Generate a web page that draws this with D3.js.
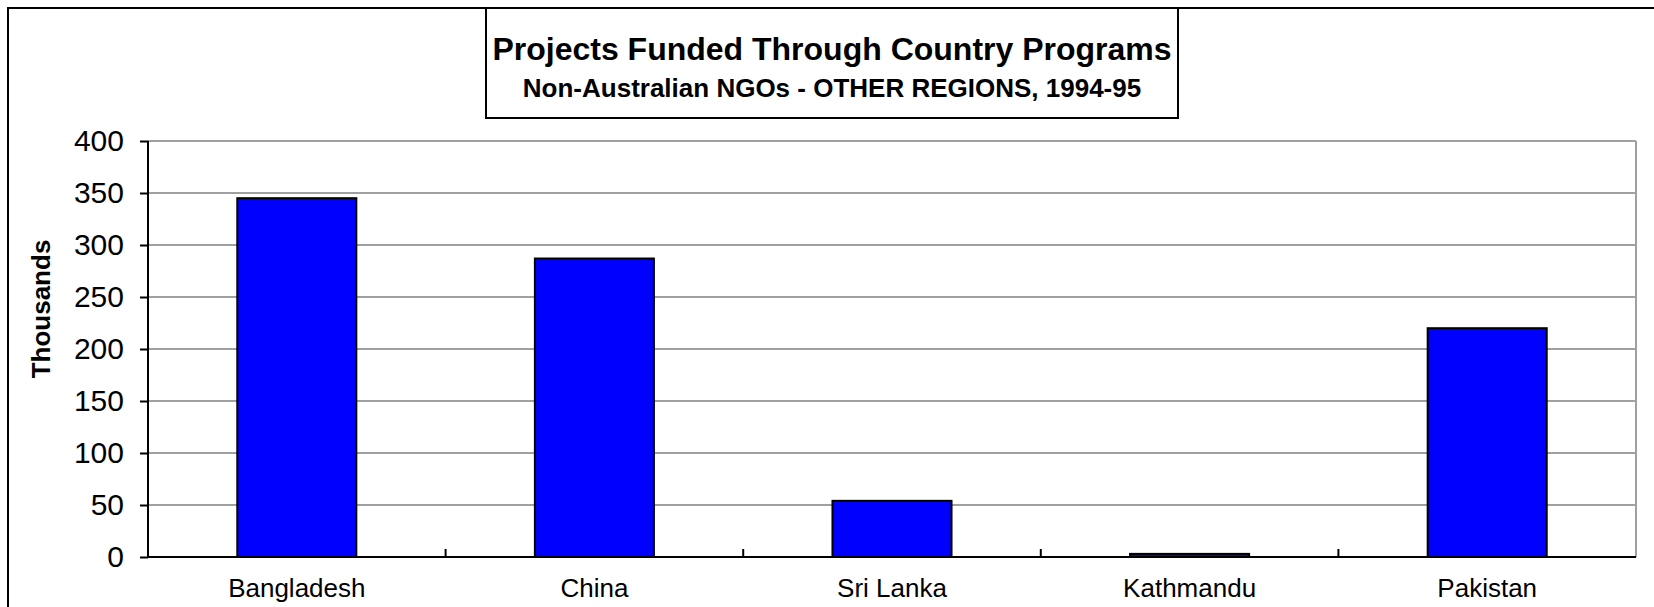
<!DOCTYPE html>
<html>
  <head>
    <meta charset="utf-8">
    <title>Projects Funded Through Country Programs</title>
    <script type="text/javascript" src="https://cdn.jsdelivr.net/npm/d3@7"></script>
    <style>
    body {
      margin: 0;
      background: #fff;
    }
    svg text {
      font-family: Arial, "Liberation Sans", sans-serif;
      fill: #000;
    }
    .title {
      font-size: 32px;
      font-weight: bold;
    }
    .subtitle {
      font-size: 26px;
      font-weight: bold;
    }
    .ytitle {
      font-size: 26px;
      font-weight: bold;
    }
    .grid line {
      stroke: #a0a0a0;
      stroke-width: 2;
    }
    </style>
  </head>
  <body>
    <div id="chart"></div>
    <script type="text/javascript">

      // data
      var countries = ['Bangladesh', 'China', 'Sri Lanka', 'Kathmandu', 'Pakistan'];
      var amounts = [345, 287, 54, 3, 220];   // thousands
      var yTicks = [0, 50, 100, 150, 200, 250, 300, 350, 400];

      var width = 1654,
          height = 607;
      var margin = {top: 141, right: 18, bottom: 50, left: 148};
      var plotW = width - margin.left - margin.right,
          plotH = 557 - margin.top;

      var svg = d3.select('#chart').append('svg')
        .attr('width', width)
        .attr('height', height);

      // outer frame (runs off the picture on the right and bottom)
      svg.append('rect')
        .attr('x', 8).attr('y', 8)
        .attr('width', 1670).attr('height', 640)
        .attr('fill', 'none')
        .attr('stroke', '#000')
        .attr('stroke-width', 2);

      // title box
      svg.append('rect')
        .attr('x', 486).attr('y', 8)
        .attr('width', 692).attr('height', 110)
        .attr('fill', '#fff')
        .attr('stroke', '#000')
        .attr('stroke-width', 2);
      svg.append('text')
        .attr('class', 'title')
        .attr('x', 832).attr('y', 60)
        .attr('text-anchor', 'middle')
        .text('Projects Funded Through Country Programs');
      svg.append('text')
        .attr('class', 'subtitle')
        .attr('x', 832).attr('y', 97)
        .attr('text-anchor', 'middle')
        .text('Non-Australian NGOs - OTHER REGIONS, 1994-95');

      var g = svg.append('g')
        .attr('transform', 'translate(' + margin.left + ',' + margin.top + ')');

      var x = d3.scaleBand()
        .domain(countries)
        .range([0, plotW])
        .paddingInner(0.6)
        .paddingOuter(0.3);
      var y = d3.scaleLinear()
        .domain([0, 400])
        .range([plotH, 0]);

      // gridlines
      g.append('g')
        .attr('class', 'grid')
        .selectAll('line')
        .data(yTicks.filter(function(d) { return d > 0; }))
        .enter()
        .append('line')
        .attr('x1', 0).attr('x2', plotW)
        .attr('y1', function(d) { return y(d); })
        .attr('y2', function(d) { return y(d); });

      // right border of plot area
      g.append('line')
        .attr('x1', plotW).attr('x2', plotW)
        .attr('y1', 0).attr('y2', plotH)
        .attr('stroke', '#a0a0a0')
        .attr('stroke-width', 2);

      // bars
      g.selectAll('.bar')
        .data(amounts)
        .enter()
        .append('rect')
        .attr('class', 'bar')
        .attr('x', function(d, i) { return x(countries[i]); })
        .attr('y', function(d) { return y(d); })
        .attr('width', x.bandwidth())
        .attr('height', function(d) { return plotH - y(d); })
        .attr('fill', '#0000ff')
        .attr('stroke', '#000')
        .attr('stroke-width', 2);

      // y axis
      var yAxis = g.append('g')
        .call(d3.axisLeft(y).tickValues(yTicks).tickSize(8).tickPadding(16));
      yAxis.select('.domain').attr('stroke-width', 2).attr('d', 'M0,0V' + plotH);
      yAxis.selectAll('.tick line').attr('stroke-width', 2);
      yAxis.selectAll('text')
        .style('font-size', '30px')
        .style('font-family', 'Arial, "Liberation Sans", sans-serif');

      // x axis
      var xAxis = g.append('g')
        .attr('transform', 'translate(0,' + plotH + ')')
        .call(d3.axisBottom(x).tickSize(0).tickPadding(22));
      xAxis.select('.domain').attr('stroke-width', 2).attr('d', 'M0,0H' + plotW);
      xAxis.selectAll('text')
        .style('font-size', '26px')
        .style('font-family', 'Arial, "Liberation Sans", sans-serif');

      // category separators, drawn inward from the axis
      var step = x.step();
      g.selectAll('.sep')
        .data(countries.slice(1))
        .enter()
        .append('line')
        .attr('class', 'sep')
        .attr('x1', function(d) { return x(d) - step * x.paddingInner() / 2; })
        .attr('x2', function(d) { return x(d) - step * x.paddingInner() / 2; })
        .attr('y1', plotH - 8).attr('y2', plotH)
        .attr('stroke', '#000')
        .attr('stroke-width', 2);

      // y axis title
      svg.append('text')
        .attr('class', 'ytitle')
        .attr('transform', 'translate(50,309) rotate(-90)')
        .attr('text-anchor', 'middle')
        .text('Thousands');
    </script>
  </body>
</html>
